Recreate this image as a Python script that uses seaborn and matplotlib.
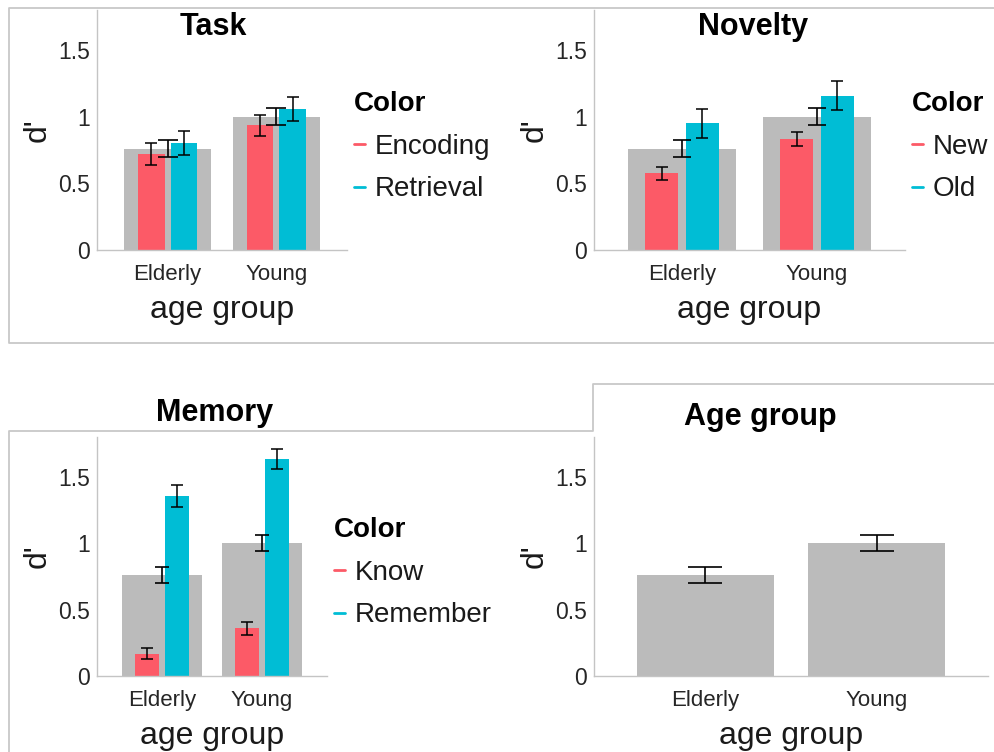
import pandas as pd
import matplotlib.pyplot as plt
import seaborn as sns
from matplotlib.lines import Line2D
from matplotlib.container import BarContainer

# age groups and the overall d' per group (grey bars)
groups = ["Elderly", "Young"]
age_mean = [0.76, 1.00]
age_err = [0.062, 0.062]

# Task panel
task_levels = ["Encoding", "Retrieval"]
task_elderly = [0.72, 0.80]
task_young = [0.935, 1.057]
task_elderly_err = [0.085, 0.09]
task_young_err = [0.08, 0.093]

# Novelty panel
novelty_levels = ["New", "Old"]
novelty_elderly = [0.575, 0.95]
novelty_young = [0.833, 1.158]
novelty_elderly_err = [0.048, 0.11]
novelty_young_err = [0.05, 0.11]

# Memory panel
memory_levels = ["Know", "Remember"]
memory_elderly = [0.168, 1.355]
memory_young = [0.36, 1.635]
memory_elderly_err = [0.043, 0.08]
memory_young_err = [0.05, 0.078]

GREY = "#BBBBBB"
RED = "#FC5A67"
CYAN = "#00BDD5"
W, H = 995, 752

sns.set_style("white")
plt.rcParams["font.family"] = ["Liberation Sans", "DejaVu Sans"]

fig = plt.figure(figsize=(W / 100, H / 100), dpi=100)


def px_axes(left, top, right, bottom):
    return fig.add_axes([left / W, 1 - bottom / H, (right - left) / W, (bottom - top) / H])


def bar_containers(ax):
    return [c for c in ax.containers if isinstance(c, BarContainer)]


def style_axes(ax):
    ax.set_ylim(0, 1.8)
    ax.set_xlim(-0.65, 1.65)
    ax.set_yticks([0, 0.5, 1, 1.5])
    ax.set_yticklabels(["0", "0.5", "1", "1.5"])
    for s in ["top", "right"]:
        ax.spines[s].set_visible(False)
    for s in ["left", "bottom"]:
        ax.spines[s].set_color("#C4C4C4")
        ax.spines[s].set_linewidth(1.0)
    ax.tick_params(axis="y", length=3, direction="in", color="#C4C4C4",
                   labelsize=16.5, labelcolor="#262626", pad=5)
    ax.tick_params(axis="x", length=0, labelsize=16, labelcolor="#262626", pad=10)
    ax.set_xlabel("age group", fontsize=23, color="#1a1a1a", labelpad=7)
    ax.set_ylabel("d'", fontsize=23, color="#1a1a1a", labelpad=4)


def grey_bars(ax, capsize):
    sns.barplot(x=groups, y=age_mean, color=GREY, width=0.8, saturation=1,
                linewidth=0, errorbar=None, ax=ax, zorder=1)
    cont = bar_containers(ax)[0]
    xs = [p.get_x() + p.get_width() / 2 for p in cont]
    ax.errorbar(xs, age_mean, yerr=age_err, fmt="none", ecolor="black",
                elinewidth=1.2, capsize=capsize, capthick=1.2, zorder=4)


def panel(ax, levels, elderly, young, elderly_err, young_err, grey_cap, cap):
    grey_bars(ax, grey_cap)
    df = pd.DataFrame({
        "group": [g for g in groups for _ in levels],
        "level": levels * len(groups),
        "d": elderly + young,
        "err": elderly_err + young_err,
    })
    sns.barplot(data=df, x="group", y="d", hue="level", hue_order=levels,
                palette=[RED, CYAN], width=0.6, gap=0.18, saturation=1, linewidth=0,
                errorbar=None, legend=False, ax=ax, zorder=2)
    for cont, lev in zip(bar_containers(ax)[1:], levels):
        sub = df[df["level"] == lev]
        xs = [p.get_x() + p.get_width() / 2 for p in cont]
        ax.errorbar(xs, sub["d"], yerr=sub["err"], fmt="none", ecolor="black",
                    elinewidth=1.1, capsize=cap, capthick=1.1, zorder=4)
    handles = [Line2D([], [], color=c, lw=2) for c in [RED, CYAN]]
    return handles


def add_legend(ax, handles, levels, x, y):
    leg = ax.legend(handles, levels, title="Color", loc="upper left",
                    bbox_to_anchor=(x / W, 1 - y / H), bbox_transform=fig.transFigure,
                    frameon=False, fontsize=20, handlelength=0.4, handletextpad=0.35,
                    labelspacing=0.6, borderaxespad=0, borderpad=0,
                    alignment="left",
                    title_fontproperties={"weight": "bold", "size": 20})
    leg.get_title().set_color("black")
    for t in leg.get_texts():
        t.set_color("#1a1a1a")


# Task
ax1 = px_axes(97, 10, 347, 250)
h = panel(ax1, task_levels, task_elderly, task_young, task_elderly_err, task_young_err, 7.2, 4.3)
style_axes(ax1)
add_legend(ax1, h, task_levels, 354, 91)

# Novelty
ax2 = px_axes(594, 10, 905, 250)
h = panel(ax2, novelty_levels, novelty_elderly, novelty_young, novelty_elderly_err,
          novelty_young_err, 6.5, 4.3)
style_axes(ax2)
add_legend(ax2, h, novelty_levels, 912, 91)

# Memory
ax3 = px_axes(97, 437, 327, 676)
h = panel(ax3, memory_levels, memory_elderly, memory_young, memory_elderly_err,
          memory_young_err, 4.8, 4.5)
style_axes(ax3)
add_legend(ax3, h, memory_levels, 334, 517)

# Age group
ax4 = px_axes(594, 437, 988, 676)
grey_bars(ax4, 11.9)
style_axes(ax4)

# titles
for txt, x, y in [("Task", 213, 27), ("Novelty", 753, 27),
                  ("Memory", 215, 413), ("Age group", 760, 417)]:
    fig.text(x / W, 1 - y / H, txt, ha="center", va="center", fontsize=22,
             fontweight="bold", color="black")

# panel frames from the screenshot composite
frame_kw = dict(color="#C8C8C8", lw=1.3, transform=fig.transFigure)
fig.add_artist(Line2D([995 / W, 9 / W, 9 / W, 995 / W],
                      [1 - 8 / H, 1 - 8 / H, 1 - 343 / H, 1 - 343 / H], **frame_kw))
fig.add_artist(Line2D([9 / W, 9 / W, 593 / W, 593 / W, 995 / W],
                      [0, 1 - 431 / H, 1 - 431 / H, 1 - 384 / H, 1 - 384 / H], **frame_kw))

fig.savefig("out.png", dpi=100)
